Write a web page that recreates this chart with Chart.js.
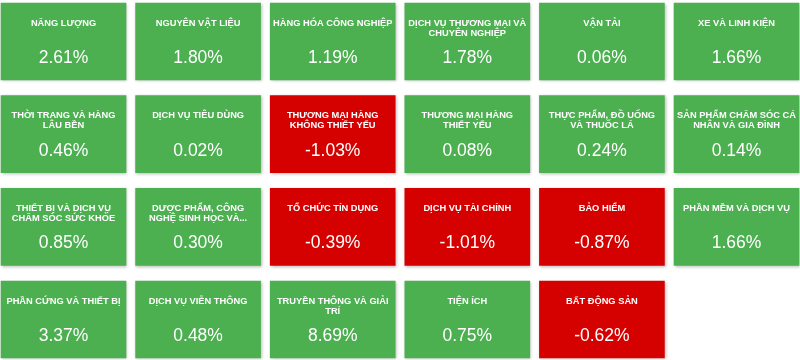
<!DOCTYPE html>
<html>
<head>
<meta charset="utf-8">
<script src="https://cdn.jsdelivr.net/npm/chart.js@4/dist/chart.umd.min.js"></script>
<style>
  html, body { margin: 0; padding: 0; background: #ffffff; }
  canvas { display: block; }
</style>
</head>
<body>
<canvas id="c" width="800" height="360"></canvas>
<script>
// ---- data ----
const sectors = [
  "NĂNG LƯỢNG", "NGUYÊN VẬT LIỆU", "HÀNG HÓA CÔNG NGHIỆP",
  "DỊCH VỤ THƯƠNG MẠI VÀ CHUYÊN NGHIỆP", "VẬN TẢI", "XE VÀ LINH KIỆN",
  "THỜI TRANG VÀ HÀNG LÂU BỀN", "DỊCH VỤ TIÊU DÙNG", "THƯƠNG MẠI HÀNG KHÔNG THIẾT YẾU",
  "THƯƠNG MẠI HÀNG THIẾT YẾU", "THỰC PHẨM, ĐỒ UỐNG VÀ THUỐC LÁ", "SẢN PHẨM CHĂM SÓC CÁ NHÂN VÀ GIA ĐÌNH",
  "THIẾT BỊ VÀ DỊCH VỤ CHĂM SÓC SỨC KHỎE", "DƯỢC PHẨM, CÔNG NGHỆ SINH HỌC VÀ...", "TỔ CHỨC TÍN DỤNG",
  "DỊCH VỤ TÀI CHÍNH", "BẢO HIỂM", "PHẦN MỀM VÀ DỊCH VỤ",
  "PHẦN CỨNG VÀ THIẾT BỊ", "DỊCH VỤ VIỄN THÔNG", "TRUYỀN THÔNG VÀ GIẢI TRÍ",
  "TIỆN ÍCH", "BẤT ĐỘNG SẢN"
];
const changes = [
  2.61, 1.80, 1.19, 1.78, 0.06, 1.66,
  0.46, 0.02, -1.03, 0.08, 0.24, 0.14,
  0.85, 0.30, -0.39, -1.01, -0.87, 1.66,
  3.37, 0.48, 8.69, 0.75, -0.62
];

// ---- layout / style constants ----
const COLS = 6;
const TILE_SPAN = 0.9287;         // tile width as fraction of a column step
const GREEN = "#4caf50";
const RED = "#d50000";
const FONT = '"Liberation Sans", Arial, Helvetica, sans-serif';

const tiles = sectors.map((s, i) => {
  const col = i % COLS;
  const row = Math.floor(i / COLS);
  return { x: [col, col + TILE_SPAN], y: row };
});

function wrapText(ctx, text, maxWidth) {
  const words = text.split(" ");
  const lines = [];
  let cur = "";
  for (const w of words) {
    const test = cur ? cur + " " + w : w;
    if (ctx.measureText(test).width > maxWidth && cur) {
      lines.push(cur);
      cur = w;
    } else {
      cur = test;
    }
  }
  if (cur) lines.push(cur);
  return lines;
}

const tileShadow = {
  id: "tileShadow",
  beforeDatasetDraw(chart) {
    const ctx = chart.ctx;
    ctx.save();
    ctx.shadowColor = "rgba(0,0,0,0.28)";
    ctx.shadowBlur = 3;
    ctx.shadowOffsetX = 1;
    ctx.shadowOffsetY = 1;
  },
  afterDatasetDraw(chart) {
    chart.ctx.restore();
  }
};

const tileLabels = {
  id: "tileLabels",
  afterDatasetsDraw(chart) {
    const ctx = chart.ctx;
    const meta = chart.getDatasetMeta(0);
    meta.data.forEach((bar, i) => {
      const p = bar.getProps(["x", "y", "base", "height"], true);
      const cx = (p.x + p.base) / 2;
      const top = p.y - p.height / 2;
      ctx.save();
      ctx.fillStyle = "#ffffff";
      ctx.textAlign = "center";
      ctx.textBaseline = "alphabetic";
      const tSize = 9.3;
      ctx.font = "bold " + tSize + "px " + FONT;
      const lines = wrapText(ctx, sectors[i], 121);
      lines.forEach((ln, k) => {
        ctx.fillText(ln, cx, top + 19.5 + k * 10 + tSize * 0.358);
      });
      const vSize = 17.5;
      ctx.font = vSize + "px " + FONT;
      ctx.fillText(changes[i].toFixed(2) + "%", cx, top + 53.8 + vSize * 0.358);
      ctx.restore();
    });
  }
};

new Chart(document.getElementById("c"), {
  type: "bar",
  data: {
    datasets: [{
      data: tiles,
      backgroundColor: changes.map(v => v >= 0 ? GREEN : RED),
      borderWidth: 0,
      barThickness: 77,
      grouped: false
    }]
  },
  options: {
    indexAxis: "y",
    responsive: false,
    animation: false,
    events: [],
    layout: { padding: 0 },
    scales: {
      x: { type: "linear", min: -0.00743, max: 5.936, offset: false, display: false },
      y: { type: "linear", reverse: true, min: -0.4478, max: 3.437, offset: false, display: false }
    },
    plugins: {
      legend: { display: false },
      tooltip: { enabled: false }
    }
  },
  plugins: [tileShadow, tileLabels]
});
</script>
</body>
</html>
